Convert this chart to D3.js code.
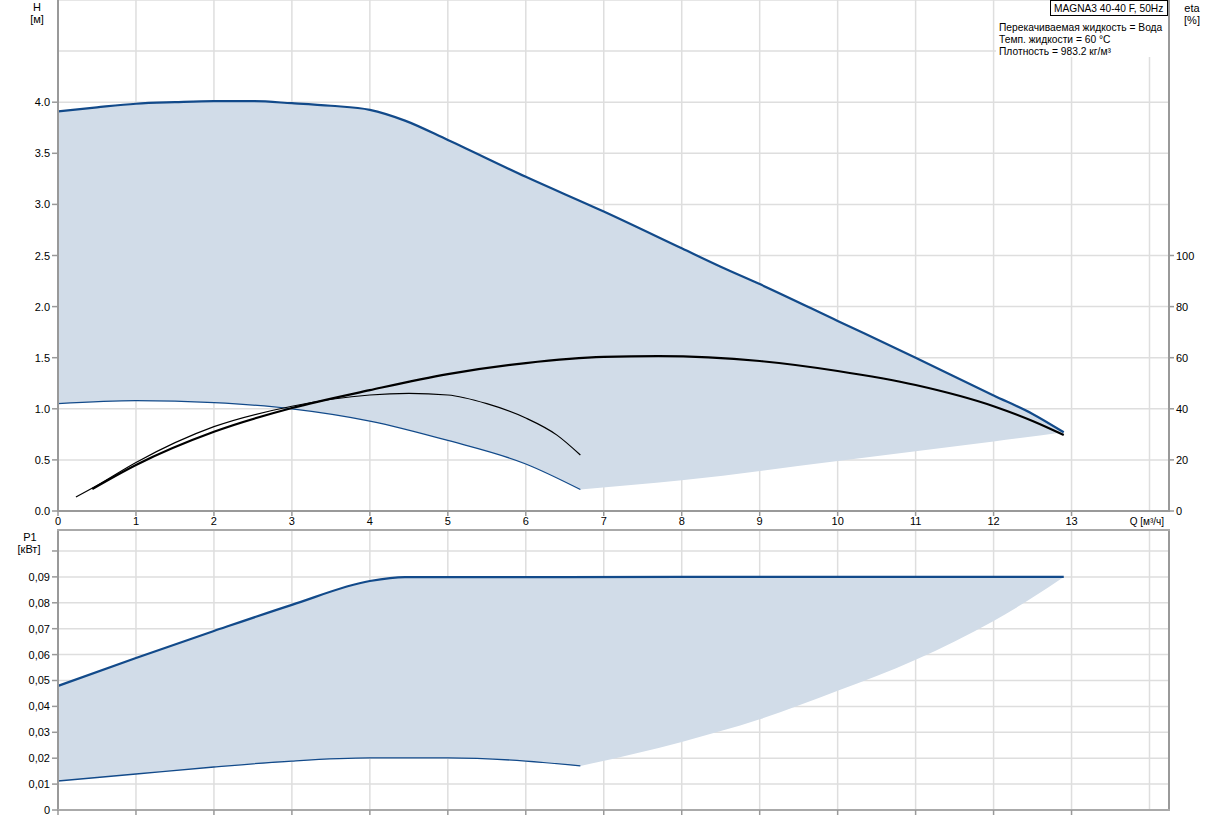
<!DOCTYPE html>
<html><head><meta charset="utf-8">
<script src="https://cdn.jsdelivr.net/npm/d3@7"></script>
<style>
body{margin:0;background:#fff}
svg{display:block}
text{font-family:"Liberation Sans",Arial,sans-serif;fill:#000}
</style>
</head><body>
<svg id="c" width="1217" height="819" font-size="11"></svg>
<script>
// ---- data ----
const qHmax = [0, 0.5, 1, 1.5, 2, 2.5, 3, 3.5, 4, 4.45, 5, 6, 7, 8, 8.5, 9, 10, 11, 12, 12.5, 12.9];
const hMax  = [3.91, 3.95, 3.985, 4.0, 4.01, 4.01, 3.99, 3.965, 3.925, 3.82, 3.63, 3.27, 2.93, 2.57, 2.39, 2.22, 1.86, 1.5, 1.13, 0.95, 0.77];
const qHmin = [0, 1, 2, 3, 4, 5, 6, 6.7];
const hMin  = [1.05, 1.08, 1.06, 1.0, 0.88, 0.69, 0.46, 0.21];
const qHlow = [6.7, 8, 10, 12, 12.9];
const hLow  = [0.21, 0.30, 0.49, 0.68, 0.77];

const qEtaMax = [0.44, 1, 2, 3, 4, 5, 6, 7, 7.7, 9, 10, 11, 12, 12.5, 12.9];
const etaMax  = [8.6, 18, 31, 40.3, 47.3, 53.6, 57.9, 60.3, 60.6, 58.7, 54.8, 49.3, 41, 35.2, 29.7];
const qEtaMin = [0.23, 0.5, 1, 2, 3, 4, 4.5, 5, 5.5, 6, 6.4, 6.7];
const etaMin  = [5.5, 10, 19, 33, 41, 45.4, 46, 45.4, 42, 36.4, 29.7, 21.9];

const qPmax = [0, 1, 2, 3, 4, 4.45, 6, 8, 10, 12, 12.9];
const pMax  = [0.0479, 0.0587, 0.0691, 0.0792, 0.0884, 0.0899, 0.0899, 0.09, 0.09, 0.09, 0.09];
const qPmin = [0, 1, 2, 3, 4, 5, 6, 6.7];
const pMin  = [0.0112, 0.0139, 0.0166, 0.0189, 0.0201, 0.0201, 0.0189, 0.017];
const qPlow = [6.7, 8, 9, 10, 11, 12, 12.5, 12.9];
const pLow  = [0.017, 0.0263, 0.035, 0.046, 0.058, 0.073, 0.082, 0.09];

const xTicks = [0,1,2,3,4,5,6,7,8,9,10,11,12,13];
const xGrid = [1,2,3,4,5,6,7,8,9,10,11,12,13,14];
const hTicks = [0,0.5,1,1.5,2,2.5,3,3.5,4];
const hGrid = [0.5,1,1.5,2,2.5,3,3.5,4,4.5,5];
const etaTicks = [0,20,40,60,80,100];
const pTicks = [0,0.01,0.02,0.03,0.04,0.05,0.06,0.07,0.08,0.09];
const pGrid = [0.01,0.02,0.03,0.04,0.05,0.06,0.07,0.08,0.09,0.10];

const title = "MAGNA3 40-40 F, 50Hz";
const infoLines = ["Перекачиваемая жидкость = Вода", "Темп. жидкости = 60 °C", "Плотность = 983.2 кг/м³"];

// ---- layout ----
const L = 58, R = 1169;
const T1 = 0, B1 = 511, T2 = 530, B2 = 810;
const fillC = "#d1dce8", lineC = "#124a8a", gridC = "#dedede", axisC = "#999";

const svg = d3.select("#c");
const x = d3.scaleLinear().domain([0, 14.25]).range([L, R]);
const yH = d3.scaleLinear().domain([0, 5]).range([B1, T1]);
const yE = d3.scaleLinear().domain([0, 200]).range([B1, T1]);
const yP = d3.scaleLinear().domain([0, 0.1081]).range([B2, T2]);

const zip = (a, b) => a.map((v, i) => [v, b[i]]);
const mk = (ys) => d3.line().x(d => x(d[0])).y(d => ys(d[1])).curve(d3.curveMonotoneX);
const cont = s => s.replace(/^M/, "L");

const g = svg.append("g");
function grid(ys, vals, top, bot) {
  g.selectAll(null).data(xGrid).join("line")
    .attr("x1", d => x(d)).attr("x2", d => x(d)).attr("y1", top).attr("y2", bot)
    .attr("stroke", gridC).attr("stroke-width", 1.5);
  g.selectAll(null).data(vals).join("line")
    .attr("x1", L).attr("x2", R).attr("y1", d => ys(d)).attr("y2", d => ys(d))
    .attr("stroke", gridC).attr("stroke-width", 1.5);
}
grid(yH, hGrid, T1, B1);
grid(yP, pGrid, T2, B2);

const lh = mk(yH);
const maxPts = zip(qHmax, hMax), minPts = zip(qHmin, hMin), lowPts = zip(qHlow, hLow);
svg.append("path")
  .attr("d", lh(maxPts) + cont(lh(lowPts.slice().reverse())) + cont(lh(minPts.slice().reverse())) + "Z")
  .attr("fill", fillC).attr("stroke", "none");
svg.append("path").attr("d", lh(maxPts)).attr("fill", "none").attr("stroke", lineC).attr("stroke-width", 2.2);
svg.append("path").attr("d", lh(minPts)).attr("fill", "none").attr("stroke", lineC).attr("stroke-width", 1.3);

const le = mk(yE);
svg.append("path").attr("d", le(zip(qEtaMin, etaMin))).attr("fill", "none").attr("stroke", "#000").attr("stroke-width", 1.2);
svg.append("path").attr("d", le(zip(qEtaMax, etaMax))).attr("fill", "none").attr("stroke", "#000").attr("stroke-width", 2.2);

const lp = mk(yP);
const pmaxPts = zip(qPmax, pMax), pminPts = zip(qPmin, pMin), plowPts = zip(qPlow, pLow);
svg.append("path")
  .attr("d", lp(pmaxPts) + cont(lp(plowPts.slice().reverse())) + cont(lp(pminPts.slice().reverse())) + "Z")
  .attr("fill", fillC).attr("stroke", "none");
svg.append("path").attr("d", lp(pmaxPts)).attr("fill", "none").attr("stroke", lineC).attr("stroke-width", 2.2);
svg.append("path").attr("d", lp(pminPts)).attr("fill", "none").attr("stroke", lineC).attr("stroke-width", 1.3);

const ax = svg.append("g");
function vline(xx, y1, y2, c, w) { ax.append("line").attr("x1", xx).attr("x2", xx).attr("y1", y1).attr("y2", y2).attr("stroke", c).attr("stroke-width", w); }
function hline(yy, x1, x2, c, w) { ax.append("line").attr("x1", x1).attr("x2", x2).attr("y1", yy).attr("y2", yy).attr("stroke", c).attr("stroke-width", w); }

vline(L, T1, B1 + 1, axisC, 2);
vline(R, T1, B1 + 1, axisC, 2);
hline(B1, L - 1, R + 1, axisC, 2);
vline(L, T2, B2 + 1, axisC, 2);
vline(R, T2, B2 + 1, axisC, 2);
hline(B2, L - 1, R + 1, "#aaa", 2);
hline(T2, L - 1, R + 1, "#aaa", 2);

ax.selectAll(null).data(hTicks).join("line")
  .attr("x1", L - 6).attr("x2", L).attr("y1", d => yH(d)).attr("y2", d => yH(d)).attr("stroke", axisC).attr("stroke-width", 1.5);
ax.selectAll(null).data(hTicks).join("text")
  .attr("x", L - 8).attr("y", d => yH(d) + 4).attr("text-anchor", "end").text(d3.format(".1f"));
ax.selectAll(null).data(etaTicks).join("line")
  .attr("x1", R).attr("x2", R + 5).attr("y1", d => yE(d)).attr("y2", d => yE(d)).attr("stroke", axisC).attr("stroke-width", 1.5);
ax.selectAll(null).data(etaTicks).join("text")
  .attr("x", R + 7).attr("y", d => yE(d) + 4).attr("text-anchor", "start").text(d => d);
ax.selectAll(null).data(xTicks).join("line")
  .attr("x1", d => x(d)).attr("x2", d => x(d)).attr("y1", B1).attr("y2", B1 + 5).attr("stroke", axisC).attr("stroke-width", 1.5);
ax.selectAll(null).data(xTicks).join("text")
  .attr("x", d => x(d)).attr("y", B1 + 14).attr("text-anchor", "middle").text(d => d);
ax.selectAll(null).data(xTicks).join("line")
  .attr("x1", d => x(d)).attr("x2", d => x(d)).attr("y1", B2).attr("y2", B2 + 5).attr("stroke", axisC).attr("stroke-width", 1.5);
ax.selectAll(null).data(pGrid).join("line")
  .attr("x1", L - 6).attr("x2", L).attr("y1", d => yP(d)).attr("y2", d => yP(d)).attr("stroke", axisC).attr("stroke-width", 1.5);
ax.append("line").attr("x1", L - 6).attr("x2", L).attr("y1", yP(0)).attr("y2", yP(0)).attr("stroke", axisC).attr("stroke-width", 1.5);
ax.selectAll(null).data(pTicks).join("text")
  .attr("x", L - 8).attr("y", d => yP(d) + 4).attr("text-anchor", "end")
  .text(d => d === 0 ? "0" : d3.format(".2f")(d).replace(".", ","));

const t = svg.append("g");
t.append("text").attr("x", 37).attr("y", 11).attr("text-anchor", "middle").text("H");
t.append("text").attr("x", 37).attr("y", 23).attr("text-anchor", "middle").text("[м]");
t.append("text").attr("x", 1192).attr("y", 12).attr("text-anchor", "middle").text("eta");
t.append("text").attr("x", 1192).attr("y", 24).attr("text-anchor", "middle").text("[%]");
t.append("text").attr("x", 30).attr("y", 541).attr("text-anchor", "middle").text("P1");
t.append("text").attr("x", 29).attr("y", 553).attr("text-anchor", "middle").text("[кВт]");
t.append("text").attr("x", 1164).attr("y", 525).attr("text-anchor", "end").style("font-size", "10px").text("Q [м³/ч]");

svg.append("rect").attr("x", 996).attr("y", 15).attr("width", R - 997).attr("height", 42).attr("fill", "#fff");
svg.selectAll(null).data(infoLines).join("text")
  .attr("x", 999).attr("y", (d, i) => 31 + i * 12).style("font-size", "10.25px").text(d => d);
svg.append("rect").attr("x", 1050.5).attr("y", 0.5).attr("width", 117).attr("height", 15).attr("fill", "#fff").attr("stroke", "#000").attr("stroke-width", 1);
svg.append("text").attr("x", 1054).attr("y", 12).style("font-size", "10.2px").text(title);
</script>
</body></html>
